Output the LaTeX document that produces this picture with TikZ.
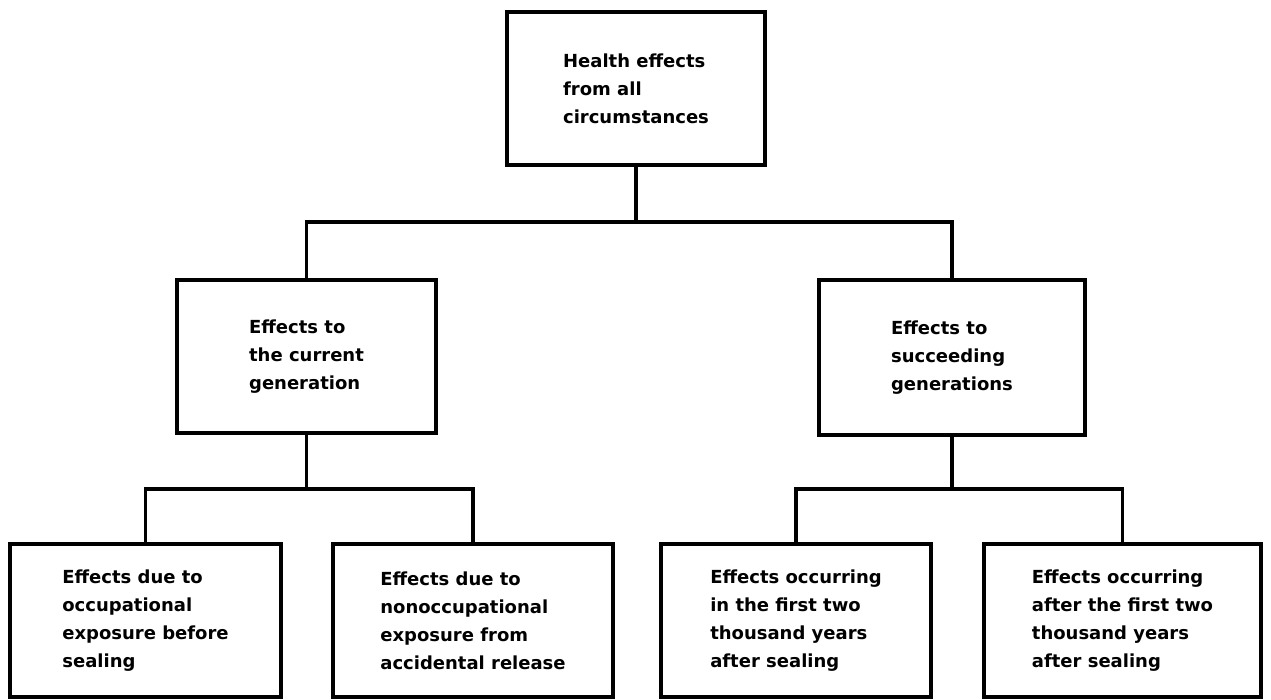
\documentclass[tikz,border=0pt]{standalone}
\usepackage{fontspec}
\setmainfont{DejaVu Sans}
\begin{document}
\begin{tikzpicture}[x=1pt,y=-1pt,
  box/.style={draw=black, line width=4.5pt, fill=white, align=left,
    font=\fontsize{18}{28}\selectfont\bfseries, inner sep=0pt},
  conn/.style={draw=black, line width=3.6pt}]
\useasboundingbox (0,0) rectangle (1271,700);
\node[box, minimum width=258pt, minimum height=153pt] (top) at (636,88.5)
  {Health effects\\from all\\circumstances};
\node[box, minimum width=259pt, minimum height=153pt] (midL) at (306.5,356.5)
  {Effects to\\the current\\generation};
\node[box, minimum width=266pt, minimum height=155pt] (midR) at (952,357.5)
  {Effects to\\succeeding\\generations};
\node[box, minimum width=271pt, minimum height=153pt] (b1) at (145.5,620.5)
  {Effects due to\\occupational\\exposure before\\sealing};
\node[box, minimum width=280pt, minimum height=153pt] (b2) at (473,620.5)
  {Effects due to\\nonoccupational\\exposure from\\accidental release};
\node[box, minimum width=270pt, minimum height=153pt] (b3) at (796,620.5)
  {Effects occurring\\in the first two\\thousand years\\after sealing};
\node[box, minimum width=277pt, minimum height=153pt] (b4) at (1122.5,620.5)
  {Effects occurring\\after the first two\\thousand years\\after sealing};
\coordinate (h1) at (0,222);
\coordinate (h2) at (0,489);
\coordinate (j1) at (top.south |- h1);
\coordinate (j2) at (midL.south |- h2);
\coordinate (j3) at (midR.south |- h2);
\draw[conn] (top.south) -- (j1);
\draw[conn] (midL.north) |- (j1) -| (midR.north);
\draw[conn] (midL.south) -- (j2);
\draw[conn] (b1.north) |- (j2) -| (b2.north);
\draw[conn] (midR.south) -- (j3);
\draw[conn] (b3.north) |- (j3) -| (b4.north);
\end{tikzpicture}
\end{document}
